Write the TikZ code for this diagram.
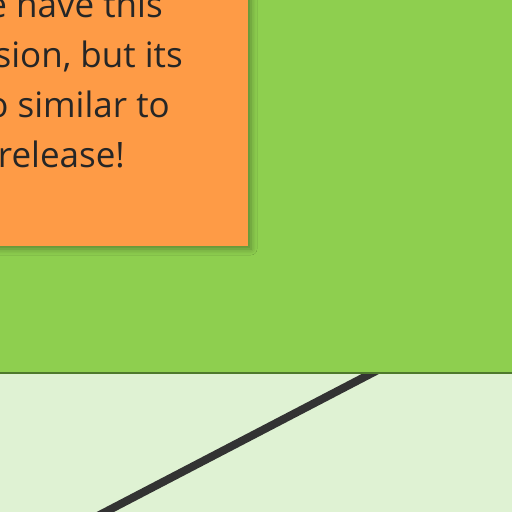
\documentclass[tikz,border=0pt]{standalone}
\usepackage{fontspec}
\setmainfont{Open Sans}
\usetikzlibrary{shadows.blur}
\definecolor{bggreen}{HTML}{8ECF4F}
\definecolor{lightgreen}{HTML}{DFF2D3}
\definecolor{edgegreen}{HTML}{4E7A2C}
\definecolor{sticky}{HTML}{FE9B46}
\definecolor{ink}{HTML}{262626}
\definecolor{wire}{HTML}{333333}
\tikzset{
  notetext/.style={font=\fontsize{35}{50}\selectfont, text=ink, inner sep=0pt, anchor=base east},
  wireline/.style={draw=wire, line width=8pt}
}
\begin{document}
\begin{tikzpicture}[x=1pt,y=-1pt]
\useasboundingbox (0,0) rectangle (512,512);
\begin{scope}
\clip (0,0) rectangle (512,512);
\fill[lightgreen] (0,0) rectangle (512,512);
\coordinate (wa) at (400,358.5);
\coordinate (wb) at (40,546);
\draw[wireline] (wa) -- (wb);
\fill[bggreen] (-10,-10) rectangle (522,373);
\draw[edgegreen, line width=1.5pt] (-10,373) -- (522,373);
\node[draw=none, fill=sticky, minimum width=300pt, minimum height=300pt, inner sep=0pt,
  blur shadow={shadow xshift=3pt, shadow yshift=-3pt, shadow blur radius=6pt, shadow opacity=35}]
  (note) at (98,96) {};
\node[notetext] (l1) at (163,17) {e have this};
\node[notetext] (l2) at (183,67) {sion, but its};
\node[notetext] (l3) at (170,117) {o similar to};
\node[notetext] (l4) at (125,167) {release!};
\end{scope}
\end{tikzpicture}
\end{document}
